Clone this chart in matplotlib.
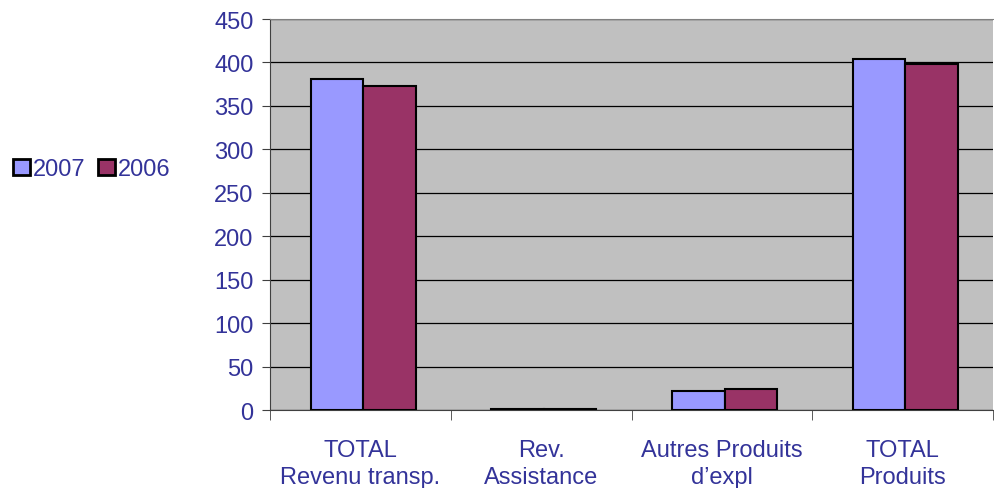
import matplotlib
matplotlib.use("Agg")
import matplotlib.pyplot as plt
import numpy as np

plt.rcParams["font.family"] = ["Liberation Sans", "DejaVu Sans"]

TEXT = "#333399"
C2007 = "#9999ff"
C2006 = "#993366"

categories = ["TOTAL\nRevenu transp.", "Rev.\nAssistance", "Autres Produits\nd\u2019expl", "TOTAL\nProduits"]
vals_2007 = [381, 1.5, 22, 404]
vals_2006 = [373, 1.5, 24, 398]

fig = plt.figure(figsize=(9.95, 4.89), dpi=100)
ax = fig.add_axes([0.2714, 0.1595, 0.7266, 0.7996])
ax.set_facecolor("#c0c0c0")

x = np.arange(len(categories))
w = 0.29
ax.bar(x - w / 2 + 0.015, vals_2007, w, color=C2007, edgecolor="black", linewidth=1.5, label="2007", zorder=3)
ax.bar(x + w / 2 + 0.015, vals_2006, w, color=C2006, edgecolor="black", linewidth=1.5, label="2006", zorder=3)

ax.set_xlim(-0.5, 3.5)
ax.set_ylim(0, 450)
ax.set_yticks(range(0, 451, 50))
ax.yaxis.grid(True, color="black", linewidth=0.9, zorder=1)
ax.set_axisbelow(True)

ax.set_xticks(x)
ax.set_xticklabels(categories, color=TEXT, fontsize=17, linespacing=1.3)
ax.tick_params(axis="x", length=0, pad=21)
ax.set_xticks(np.arange(-0.5, 4, 1), minor=True)
ax.tick_params(axis="x", which="minor", length=7, color="#404040")
ax.tick_params(axis="y", labelcolor=TEXT, labelsize=17, length=6, pad=6, color="#404040")

ax.spines["right"].set_visible(False)
ax.spines["top"].set_color("#808080")
ax.spines["left"].set_color("#404040")
ax.spines["bottom"].set_color("#404040")

leg = fig.legend(loc="center left", bbox_to_anchor=(-0.004, 0.652), frameon=False, ncol=2,
                 fontsize=17, labelcolor=TEXT, handlelength=0.72, handleheight=0.72,
                 handletextpad=0.12, columnspacing=0.55, borderpad=0.2)
for h in leg.legend_handles:
    h.set_linewidth(2)

fig.savefig("out.png")
